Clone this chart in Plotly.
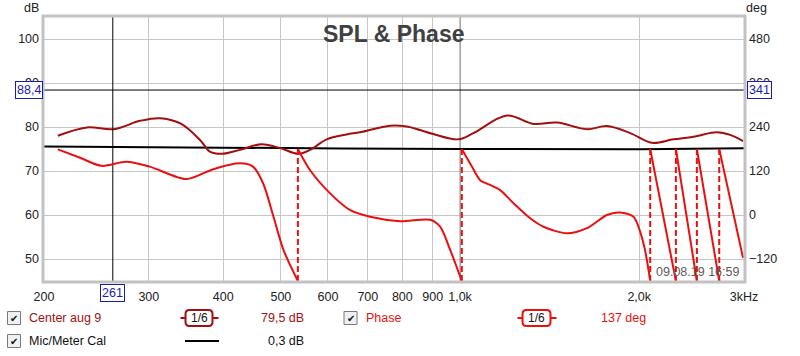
import math
import plotly.graph_objects as go

# ---------------- data ----------------
spl_freq = [211, 236, 262, 290, 313, 339, 366, 380, 398, 427, 464, 499, 535, 560, 597,
            645, 679, 763, 814, 857, 902, 994, 1053, 1199, 1329, 1455, 1634, 1765, 1932,
            2100, 2284, 2468, 2702, 2844, 2989]
spl_db = [78.0, 79.9, 79.5, 81.4, 82.0, 80.8, 77.0, 74.4, 73.9, 74.8, 76.1, 75.2, 73.9, 74.8, 77.2,
          78.3, 78.8, 80.3, 80.1, 79.3, 78.4, 77.2, 78.6, 82.6, 80.7, 81.0, 79.5, 80.2, 78.6,
          76.4, 77.2, 77.8, 78.8, 78.2, 76.8]

phase_freq = [211, 230, 250, 275, 301, 347, 385, 427, 449, 467, 486, 505, 534,
              534, 560, 605, 654, 706, 793, 891, 926, 963, 1007,
              1007, 1047, 1081, 1123, 1168, 1230, 1312, 1381, 1512, 1634, 1765, 1846, 1956, 2033, 2087,
              2087, 2305,
              2305, 2500,
              2500, 2726,
              2726, 2989]
phase_deg = [179, 156, 134, 145, 132, 98, 125, 141, 132, 86, -5, -95, -180,
             180, 122, 59, 13, -5, -17, -13, -32, -96, -180,
             180, 132, 95, 82, 68, 32, -9, -32, -50, -36, 0, 7, -5, -77, -180,
             180, -180,
             180, -180,
             180, -180,
             180, -117]

cal_freq = [200, 400, 1000, 2000, 3000]
cal_db = [75.55, 75.3, 75.0, 74.95, 75.15]

cursor_freq = 261
cursor_db = 88.4
cursor_deg = 341

x_tickvals = [200, 300, 400, 500, 600, 700, 800, 900, 1000, 2000, 3000]
x_ticktext = ["200", "300", "400", "500", "600", "700", "800", "900", "1,0k", "2,0k", "3kHz"]
db_ticks = [50, 60, 70, 80, 90, 100]
deg_ticks = [-120, 0, 120, 240, 360, 480]

legend_names = ["Center aug 9", "Phase", "Mic/Meter Cal"]
legend_values = ["79,5 dB", "137 deg", "0,3 dB"]
smoothing_label = "1/6"
title_text = "SPL & Phase"
timestamp = "09.08.19 16:59"

# ---------------- styling ----------------
W, H = 800, 356
L, R, T, B = 44, 744, 17, 281
FONT = "Liberation Sans, Arial, sans-serif"
SPL_COL = "#a30f0f"
PH_COL = "#e81010"
GRID = "#c6c6c6"
BLUE = "#1a1ab4"


def px(x):
    return (x - L) / (R - L)


def py(y):
    return (B - y) / (B - T)


fig = go.Figure()

# darker 1k grid line
fig.add_trace(go.Scatter(x=[1000, 1000], y=[45, 105], mode="lines",
                         line=dict(color="#8a8a8a", width=1), hoverinfo="skip"))

fig.add_trace(go.Scatter(x=cal_freq, y=cal_db, mode="lines",
                         line=dict(color="#000000", width=2, shape="spline"), hoverinfo="skip"))
fig.add_trace(go.Scatter(x=spl_freq, y=spl_db, mode="lines",
                         line=dict(color=SPL_COL, width=2, shape="spline", smoothing=1.0),
                         hoverinfo="skip"))

# phase: split into wrapped branches
branches = []
cur = [[phase_freq[0]], [phase_deg[0]]]
wraps = []
for i in range(1, len(phase_freq)):
    if phase_deg[i] - phase_deg[i - 1] > 180:
        branches.append(cur)
        wraps.append((phase_freq[i], phase_deg[i - 1], phase_deg[i]))
        cur = [[phase_freq[i]], [phase_deg[i]]]
    else:
        cur[0].append(phase_freq[i])
        cur[1].append(phase_deg[i])
branches.append(cur)

for f, lo, hi in wraps:
    fig.add_trace(go.Scatter(x=[f, f], y=[lo, hi], yaxis="y2", mode="lines",
                             line=dict(color=PH_COL, width=2, dash="6px,3px"), hoverinfo="skip"))
for bx, by in branches:
    fig.add_trace(go.Scatter(x=bx, y=by, yaxis="y2", mode="lines",
                             line=dict(color=PH_COL, width=2, shape="spline", smoothing=0.8),
                             hoverinfo="skip"))

# cursors
fig.add_trace(go.Scatter(x=[cursor_freq, cursor_freq], y=[45, 105], mode="lines",
                         line=dict(color="#000000", width=1), hoverinfo="skip"))
fig.add_trace(go.Scatter(x=[200, 3000], y=[cursor_db, cursor_db], mode="lines",
                         line=dict(color="#000000", width=1), hoverinfo="skip"))

shapes = []
annotations = []

# frame
shapes.append(dict(type="rect", xref="paper", yref="paper", x0=px(L - 1), x1=px(R + 1),
                   y0=py(B + 1), y1=py(T - 1), line=dict(color="#c2c2c2", width=3), layer="above"))

# title, axis units, timestamp
annotations.append(dict(text=title_text, xref="paper", yref="paper", x=px(393), y=py(34),
                        showarrow=False, xanchor="center", yanchor="middle",
                        font=dict(family=FONT, size=23, color="#404040", weight="bold")))
annotations.append(dict(text="dB", xref="paper", yref="paper", x=px(31), y=py(8),
                        showarrow=False, xanchor="center", yanchor="middle",
                        font=dict(family=FONT, size=12.5, color="#222")))
annotations.append(dict(text="deg", xref="paper", yref="paper", x=px(757), y=py(8),
                        showarrow=False, xanchor="center", yanchor="middle",
                        font=dict(family=FONT, size=12.5, color="#222")))
annotations.append(dict(text=timestamp, xref="paper", yref="paper", x=px(741), y=py(272),
                        showarrow=False, xanchor="right", yanchor="middle",
                        font=dict(family=FONT, size=12.5, color="#5a5a5a")))

# cursor value boxes
box = dict(showarrow=False, bgcolor="#ffffff", bordercolor=BLUE, borderwidth=1, borderpad=1,
           font=dict(family=FONT, size=12.5, color=BLUE))
annotations.append(dict(text=f"{cursor_db:.1f}".replace(".", ","), xref="paper", yref="y",
                        x=px(43), y=cursor_db, xanchor="right", yanchor="middle", **box))
annotations.append(dict(text=str(cursor_deg), xref="paper", yref="y",
                        x=px(747), y=cursor_db, xanchor="left", yanchor="middle", **box))
annotations.append(dict(text=str(cursor_freq), xref="x", yref="paper",
                        x=math.log10(cursor_freq), y=py(293), xanchor="center", yanchor="middle", **box))


# legend
def checkbox(x, y):
    shapes.append(dict(type="rect", xref="paper", yref="paper", x0=px(x), x1=px(x + 13),
                       y0=py(y + 6.5), y1=py(y - 6.5), fillcolor="#f0f0f0",
                       line=dict(color="#7a7a7a", width=1), layer="above"))
    annotations.append(dict(text="✔", xref="paper", yref="paper", x=px(x + 6.5), y=py(y),
                            showarrow=False, xanchor="center", yanchor="middle",
                            font=dict(family="DejaVu Sans", size=10, color="#111")))


def rtext(t, x, y, col, anchor="left"):
    annotations.append(dict(text=t, xref="paper", yref="paper", x=px(x), y=py(y), showarrow=False,
                            xanchor=anchor, yanchor="middle",
                            font=dict(family=FONT, size=12.5, color=col)))


def badge(x0, x1, y, col):
    shapes.append(dict(type="line", xref="paper", yref="paper", x0=px(x0 - 5), x1=px(x1 + 6),
                       y0=py(y), y1=py(y), line=dict(color=col, width=2), layer="above"))
    r = 4
    ya, yb = y - 8, y + 8
    path = (f"M {px(x0 + r)},{py(ya)} L {px(x1 - r)},{py(ya)} Q {px(x1)},{py(ya)} {px(x1)},{py(ya + r)} "
            f"L {px(x1)},{py(yb - r)} Q {px(x1)},{py(yb)} {px(x1 - r)},{py(yb)} "
            f"L {px(x0 + r)},{py(yb)} Q {px(x0)},{py(yb)} {px(x0)},{py(yb - r)} "
            f"L {px(x0)},{py(ya + r)} Q {px(x0)},{py(ya)} {px(x0 + r)},{py(ya)} Z")
    shapes.append(dict(type="path", xref="paper", yref="paper", path=path, fillcolor="#ffffff",
                       line=dict(color=col, width=2), layer="above"))
    annotations.append(dict(text=smoothing_label, xref="paper", yref="paper", x=px((x0 + x1) / 2),
                            y=py(y), showarrow=False, xanchor="center", yanchor="middle",
                            font=dict(family=FONT, size=12, color="#111")))


row1, row2 = 318, 341
checkbox(7.5, row1)
rtext(legend_names[0], 27, row1, SPL_COL)
badge(185.5, 212.5, row1, SPL_COL)
rtext(legend_values[0], 306, row1, SPL_COL, "right")

checkbox(344, row1)
rtext(legend_names[1], 364, row1, PH_COL)
badge(522.5, 550.5, row1, PH_COL)
rtext(legend_values[1], 599, row1, PH_COL)

checkbox(7.5, row2)
rtext(legend_names[2], 27, row2, "#111")
shapes.append(dict(type="line", xref="paper", yref="paper", x0=px(185), x1=px(219),
                   y0=py(row2), y1=py(row2), line=dict(color="#000", width=2), layer="above"))
rtext(legend_values[2], 306, row2, "#111", "right")

fig.update_layout(
    width=W, height=H, autosize=False,
    margin=dict(l=L, r=W - R, t=T, b=H - B, pad=0),
    paper_bgcolor="#ffffff", plot_bgcolor="#ffffff",
    showlegend=False,
    font=dict(family=FONT, size=12.5, color="#222"),
    xaxis=dict(type="log", range=[math.log10(200), math.log10(3000)], tickvals=x_tickvals,
               ticktext=x_ticktext, showgrid=True, gridcolor=GRID, gridwidth=1, zeroline=False,
               ticks="", showline=False, ticklabelstandoff=6,
               tickfont=dict(family=FONT, size=12.5, color="#222")),
    yaxis=dict(range=[45, 105], tickvals=db_ticks, showgrid=True, gridcolor=GRID, gridwidth=1,
               zeroline=False, ticks="", showline=False, ticklabelstandoff=4,
               tickfont=dict(family=FONT, size=12.5, color="#222")),
    yaxis2=dict(range=[-180, 540], tickvals=deg_ticks, overlaying="y", side="right", showgrid=False,
                zeroline=False, ticks="", showline=False, ticklabelstandoff=4,
                tickfont=dict(family=FONT, size=12.5, color="#222")),
    shapes=shapes, annotations=annotations,
)

fig.write_html("out.html", config={"displayModeBar": False},
               post_script="document.body.style.margin='0';document.body.style.overflow='hidden';")
